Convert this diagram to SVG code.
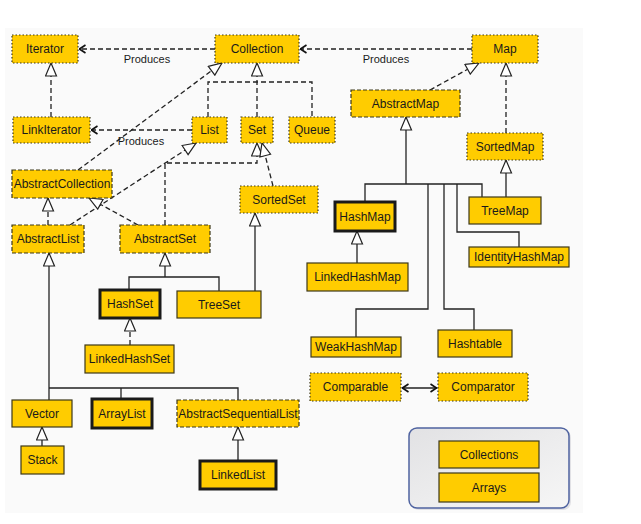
<svg xmlns="http://www.w3.org/2000/svg" width="641" height="524" viewBox="0 0 641 524">
<style>
.n rect{fill:#ffcc00;stroke:#3d3818;stroke-width:1.2}
.dot rect{stroke-dasharray:1.5 2}
.dash rect{stroke-dasharray:4 2}
.thick rect{stroke:#1a1a1a;stroke-width:3}
.n text{font-family:"Liberation Sans",Arial,sans-serif;font-size:12px;fill:#1a1a1a;text-anchor:middle}
.c path{fill:none;stroke:#222;stroke-width:1.3}
.c .d{stroke-dasharray:5 3}
.lbl{font-family:"Liberation Sans",Arial,sans-serif;font-size:11px;fill:#1a1a1a;text-anchor:middle}
</style>
<defs>
<marker id="tri" viewBox="0 0 15 13" refX="14" refY="6.5" markerWidth="15" markerHeight="13" markerUnits="userSpaceOnUse" orient="auto">
<path d="M1,1 L14,6.5 L1,12 Z" fill="#fff" stroke="#222" stroke-width="1.2"/>
</marker>
<marker id="arr" viewBox="0 0 8 10" refX="7.5" refY="5" markerWidth="8" markerHeight="10" markerUnits="userSpaceOnUse" orient="auto-start-reverse">
<path d="M1,1 L7,5 L1,9" fill="none" stroke="#111" stroke-width="1.6"/>
</marker>
<linearGradient id="gb" x1="0" y1="0" x2="1" y2="1">
<stop offset="0" stop-color="#e2e2e4"/>
<stop offset="1" stop-color="#f6f6f6"/>
</linearGradient>
</defs>
<rect x="0" y="0" width="641" height="524" fill="#ffffff"/>
<rect x="5" y="28" width="578" height="485" fill="#fafafa"/>

<g id="connectors" class="c">
<path class="d" d="M215,49 L79,49" marker-end="url(#arr)"/>
<path class="d" d="M472,49 L300,49" marker-end="url(#arr)"/>
<path class="d" d="M192,130 L91,130" marker-end="url(#arr)"/>
<path class="d" d="M51,117 L51,63" marker-end="url(#tri)"/>
<path class="d" d="M257,117 L257,63" marker-end="url(#tri)"/>
<path class="d" d="M208,117 L208,82 L312,82 L312,117"/>
<path class="d" d="M78,170 L222,63" marker-end="url(#tri)"/>
<path class="d" d="M70,225 L196,143" marker-end="url(#tri)"/>
<path class="d" d="M165,225 L165,163 L257,163 L257,143" marker-end="url(#tri)"/>
<path class="d" d="M273,186 L262,143" marker-end="url(#tri)"/>
<path class="d" d="M48,225 L48,198" marker-end="url(#tri)"/>
<path class="d" d="M138,225 L89,198" marker-end="url(#tri)"/>
<path class="d" d="M430,90 L479,63" marker-end="url(#tri)"/>
<path class="d" d="M506,133 L506,63" marker-end="url(#tri)"/>
<path d="M506,197 L506,160" marker-end="url(#tri)"/>
<path d="M406,184 L406,117" marker-end="url(#tri)"/>
<path d="M365,202 L365,184 L482,184 L482,197"/>
<path d="M428,184 L428,309 L356,309 L356,337"/>
<path d="M444,184 L444,309 L474,309 L474,330"/>
<path d="M457,184 L457,232 L519,232 L519,247"/>
<path d="M357,263 L357,231" marker-end="url(#tri)"/>
<path d="M255,291 L255,213" marker-end="url(#tri)"/>
<path d="M165,277 L165,253" marker-end="url(#tri)"/>
<path d="M129,290 L129,277 L219,277 L219,291"/>
<path class="d" d="M130,345 L130,318" marker-end="url(#tri)"/>
<path d="M49,400 L49,253" marker-end="url(#tri)"/>
<path d="M49,388 L238,388 L238,400"/>
<path d="M121,388 L121,399"/>
<path d="M42,446 L42,427" marker-end="url(#tri)"/>
<path d="M238,461 L238,427" marker-end="url(#tri)"/>
<path d="M402,388 L437,388" marker-start="url(#arr)" marker-end="url(#arr)"/>
<text class="lbl" x="147" y="63">Produces</text>
<text class="lbl" x="386" y="63">Produces</text>
<text class="lbl" x="141" y="145">Produces</text>
</g>

<g id="group-box">
<rect x="411" y="430" width="160" height="80" rx="8" fill="#c8c8d0" opacity="0.5"/>
<rect x="409" y="428" width="160" height="80" rx="8" fill="url(#gb)" stroke="#4f63a0" stroke-width="1.5"/>
</g>

<g id="Iterator" class="n dot"><rect x="12" y="35" width="66" height="28"/><text x="45" y="53">Iterator</text></g>
<g id="Collection" class="n dot"><rect x="215" y="35" width="84" height="28"/><text x="257" y="53">Collection</text></g>
<g id="Map" class="n dot"><rect x="472" y="35" width="66" height="28"/><text x="505" y="53">Map</text></g>
<g id="LinkIterator" class="n dot"><rect x="13" y="117" width="77" height="26"/><text x="51.5" y="134">LinkIterator</text></g>
<g id="List" class="n dot"><rect x="192" y="117" width="35" height="26"/><text x="209.5" y="134">List</text></g>
<g id="Set" class="n dot"><rect x="241" y="117" width="32" height="26"/><text x="257" y="134">Set</text></g>
<g id="Queue" class="n dot"><rect x="289" y="117" width="46" height="26"/><text x="312" y="134">Queue</text></g>
<g id="AbstractMap" class="n dash"><rect x="351" y="90" width="109" height="27"/><text x="405.5" y="107.5">AbstractMap</text></g>
<g id="SortedMap" class="n dot"><rect x="467" y="133" width="76" height="27"/><text x="505" y="150.5">SortedMap</text></g>
<g id="AbstractCollection" class="n dash"><rect x="12" y="170" width="100" height="28"/><text x="62" y="188">AbstractCollection</text></g>
<g id="SortedSet" class="n dot"><rect x="240" y="186" width="78" height="27"/><text x="279" y="203.5">SortedSet</text></g>
<g id="AbstractList" class="n dash"><rect x="12" y="225" width="72" height="28"/><text x="48" y="243">AbstractList</text></g>
<g id="AbstractSet" class="n dash"><rect x="120" y="225" width="90" height="28"/><text x="165" y="243">AbstractSet</text></g>
<g id="HashSet" class="n thick"><rect x="100" y="290" width="60" height="28"/><text x="130" y="308">HashSet</text></g>
<g id="TreeSet" class="n"><rect x="177" y="291" width="84" height="27"/><text x="219" y="308.5">TreeSet</text></g>
<g id="HashMap" class="n thick"><rect x="335" y="202" width="60" height="29"/><text x="365" y="220.5">HashMap</text></g>
<g id="TreeMap" class="n"><rect x="469" y="197" width="72" height="27"/><text x="505" y="214.5">TreeMap</text></g>
<g id="IdentityHashMap" class="n"><rect x="469" y="247" width="100" height="20"/><text x="519" y="261">IdentityHashMap</text></g>
<g id="LinkedHashMap" class="n"><rect x="307" y="263" width="101" height="28"/><text x="357.5" y="281">LinkedHashMap</text></g>
<g id="WeakHashMap" class="n"><rect x="311" y="337" width="90" height="20"/><text x="356" y="351">WeakHashMap</text></g>
<g id="Hashtable" class="n"><rect x="438" y="330" width="74" height="27"/><text x="475" y="347.5">Hashtable</text></g>
<g id="LinkedHashSet" class="n"><rect x="85" y="345" width="89" height="28"/><text x="129.5" y="363">LinkedHashSet</text></g>
<g id="Vector" class="n"><rect x="12" y="400" width="60" height="27"/><text x="42" y="417.5">Vector</text></g>
<g id="ArrayList" class="n thick"><rect x="92" y="399" width="60" height="29"/><text x="122" y="417.5">ArrayList</text></g>
<g id="AbstractSequentialList" class="n dash"><rect x="177" y="400" width="122" height="27"/><text x="238" y="417.5">AbstractSequentialList</text></g>
<g id="Stack" class="n"><rect x="21" y="446" width="43" height="28"/><text x="42.5" y="464">Stack</text></g>
<g id="LinkedList" class="n thick"><rect x="200" y="461" width="76" height="28"/><text x="238" y="479">LinkedList</text></g>
<g id="Comparable" class="n dot"><rect x="310" y="373" width="91" height="28"/><text x="355.5" y="391">Comparable</text></g>
<g id="Comparator" class="n dot"><rect x="438" y="373" width="90" height="28"/><text x="483" y="391">Comparator</text></g>
<g id="Collections" class="n"><rect x="439" y="441" width="100" height="27"/><text x="489" y="458.5">Collections</text></g>
<g id="Arrays" class="n"><rect x="439" y="473" width="100" height="29"/><text x="489" y="491.5">Arrays</text></g>
</svg>
